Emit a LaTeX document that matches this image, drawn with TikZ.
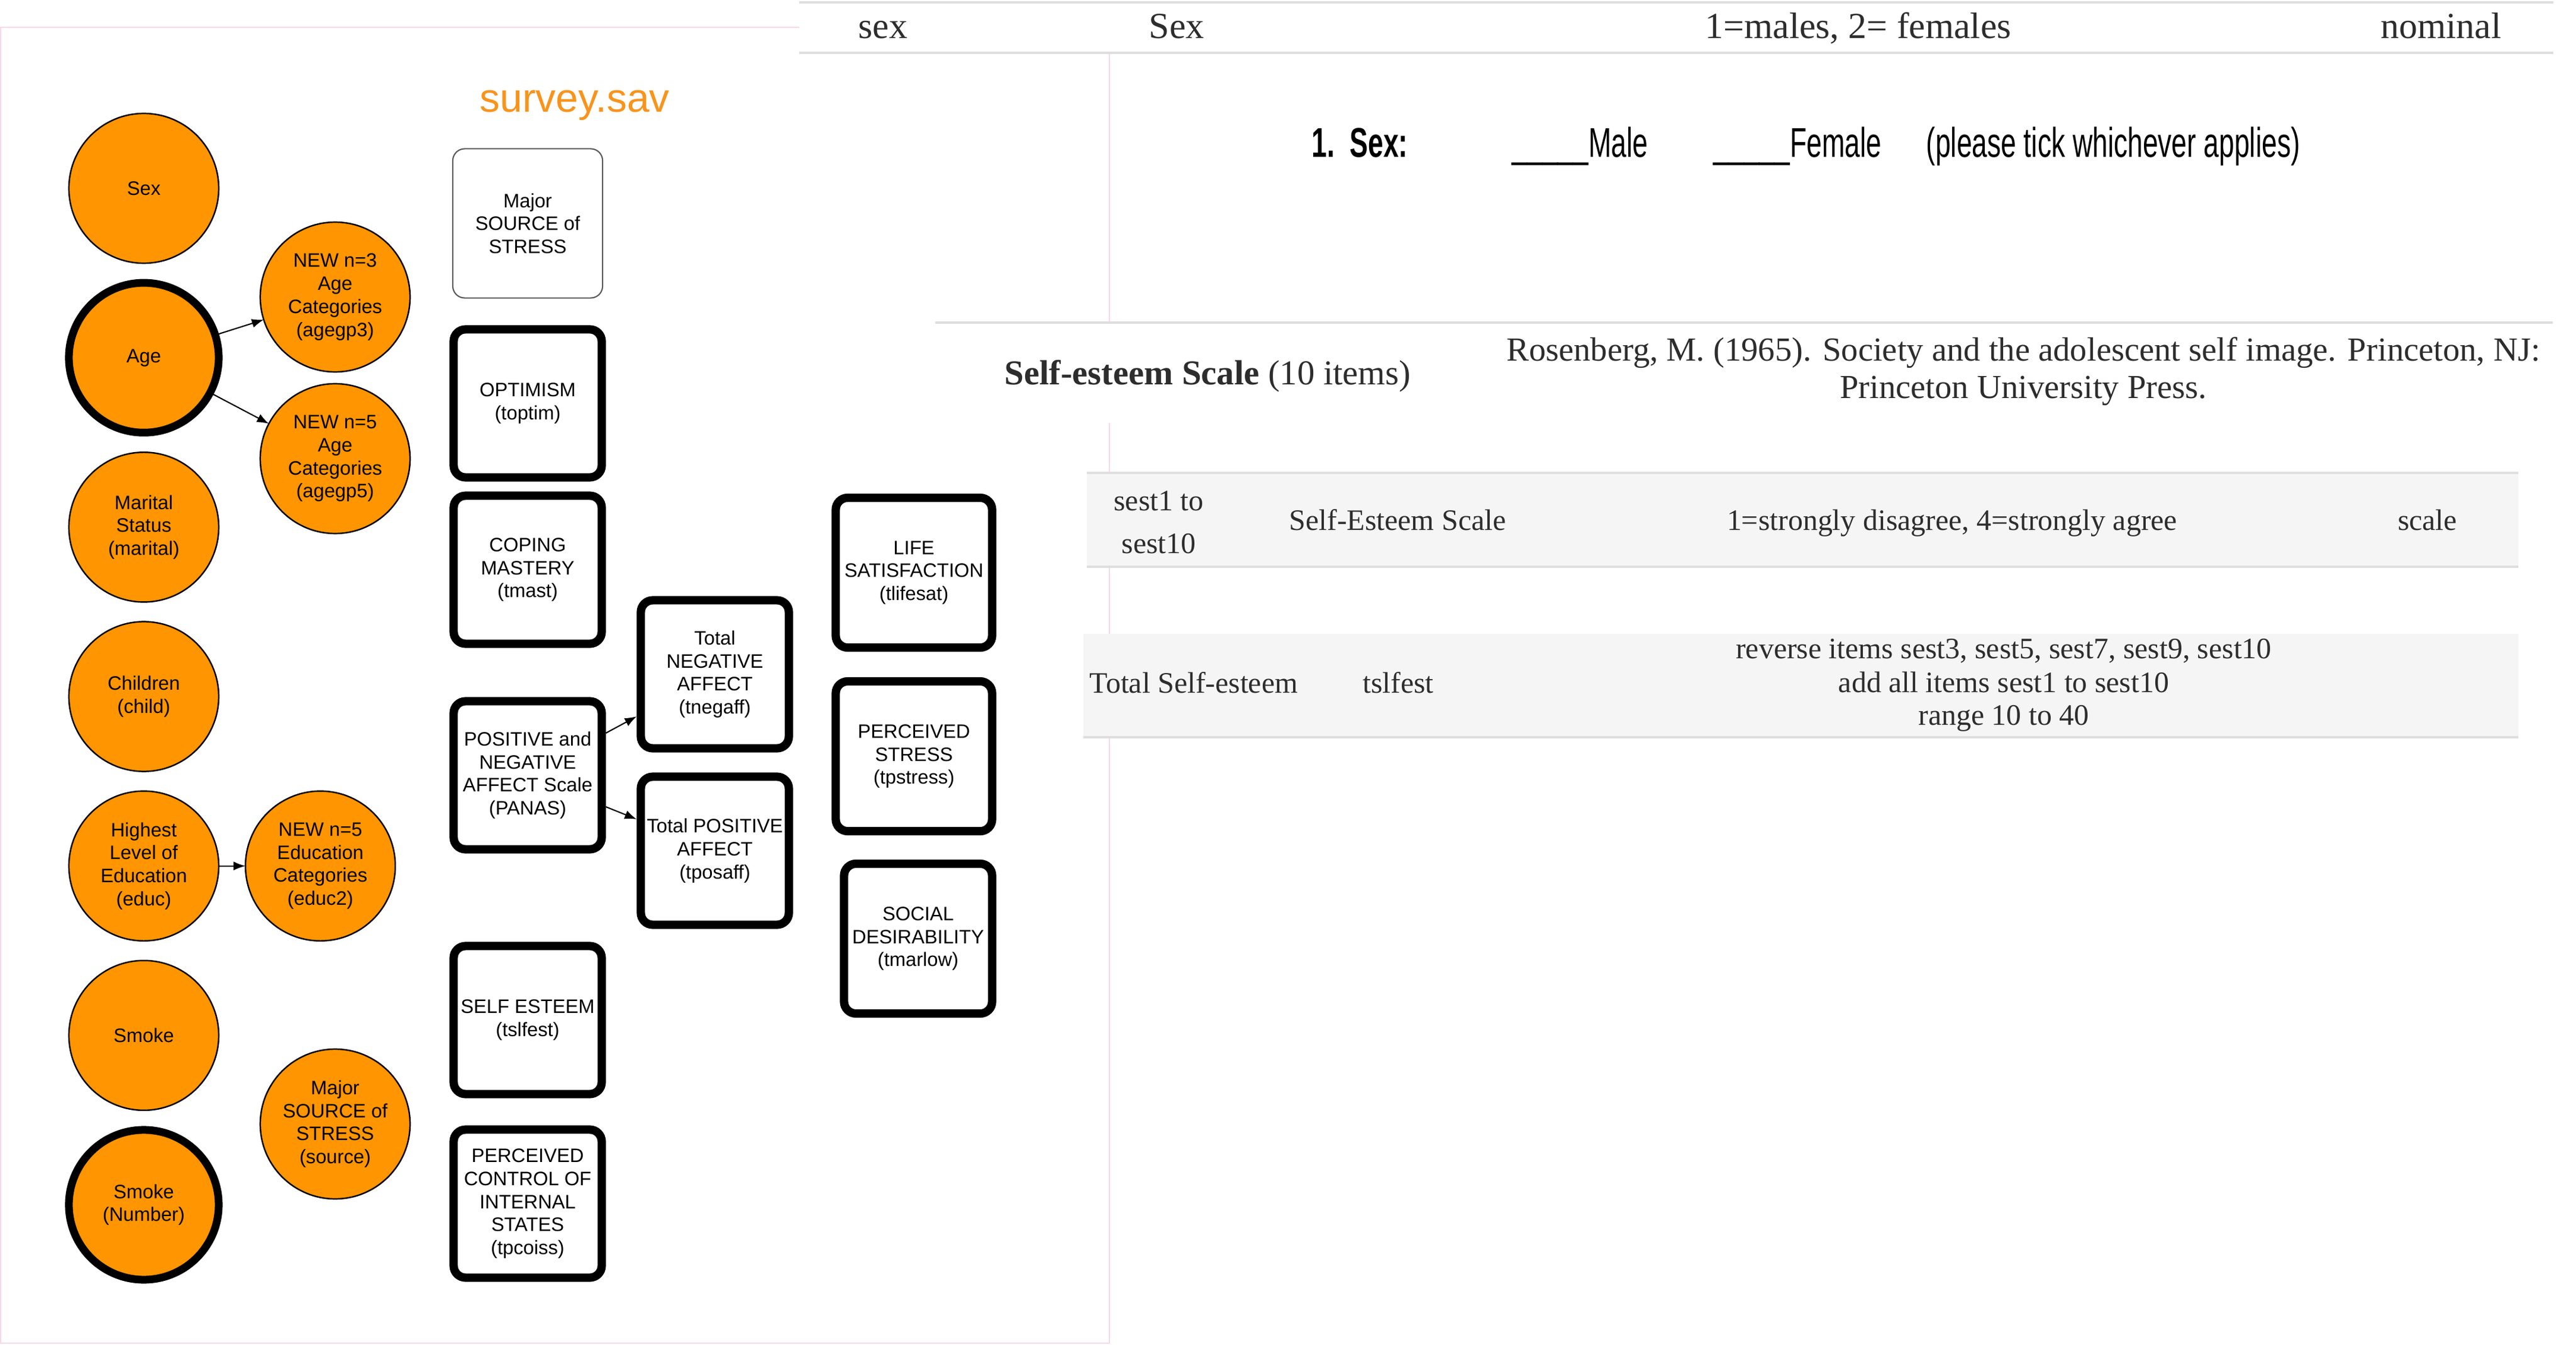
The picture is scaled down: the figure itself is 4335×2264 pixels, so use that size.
\documentclass[tikz,border=0pt]{standalone}
\usepackage{fontspec}
\usepackage{xcolor}
\usepackage{tikz}
\usetikzlibrary{arrows.meta,shapes,positioning}
\setmainfont{Liberation Serif}
\newfontfamily\diagsans{Liberation Sans}
\newfontfamily\formsans[FakeStretch=0.66]{Liberation Sans}
\definecolor{varorange}{RGB}{255,149,0}
\definecolor{titleorange}{RGB}{247,148,29}
\definecolor{panelpink}{RGB}{250,214,234}
\definecolor{rulegray}{RGB}{222,222,222}
\definecolor{rowgray}{RGB}{245,245,245}
\definecolor{tabtext}{RGB}{45,45,45}
\newcommand{\diagfont}{\diagsans\fontsize{9.3pt}{11pt}\selectfont}
\newcommand{\surveyfont}{\diagsans\fontsize{19.3pt}{22pt}\selectfont}
\newcommand{\formfont}{\formsans\fontsize{19.9pt}{24pt}\selectfont}
\newcommand{\tabheadfont}{\fontsize{17.6pt}{21pt}\selectfont}
\newcommand{\esteemfont}{\fontsize{16.7pt}{20pt}\selectfont}
\newcommand{\citefont}{\fontsize{16.1pt}{18pt}\selectfont}
\newcommand{\cellfont}{\fontsize{14.2pt}{16pt}\selectfont}

\begin{document}
\begin{tikzpicture}[
    x=0.01cm, y=-0.01cm,
    var/.style={circle, draw, line width=0.7pt, fill=varorange,
                minimum size=2.52cm, inner sep=0pt, outer sep=0pt,
                align=center, font=\diagfont},
    keyvar/.style={var, line width=3.7pt},
    measure/.style={draw, line width=4pt, rounded corners=0.2cm, fill=white,
                    minimum width=2.49cm, minimum height=2.49cm,
                    inner sep=0pt, outer sep=2pt, align=center, font=\diagfont},
    plainbox/.style={measure, line width=0.6pt, draw=black!65, outer sep=0pt,
                     minimum width=2.52cm, minimum height=2.51cm},
    arr/.style={-{Latex[length=0.2cm, width=0.15cm]}, line width=0.6pt},
    tabrule/.style={draw=rulegray, line width=1.1pt},
    cell/.style={anchor=base, inner sep=0pt, text=tabtext, font=\cellfont},
    node distance=0.33cm
]
\fill[white] (0,0) rectangle (4335,2264);
\useasboundingbox (0,0) rectangle (4335,2264);
\draw[panelpink, line width=0.4pt] (1,46) rectangle (1867,2261);

\fill[white] (1345,0) rectangle (4335,89);
\fill[white] (1574,541) rectangle (4335,712);
\draw[tabrule] (1345,4) -- (4297,4);
\draw[tabrule] (1345,89) -- (4297,89);
\draw[tabrule] (1574,543) -- (4296,543);
\fill[rowgray] (1829,796) rectangle (4238,954);
\draw[tabrule] (1829,796) -- (4238,796) (1829,954) -- (4238,954);
\fill[rowgray] (1823,1067) rectangle (4238,1241);
\draw[tabrule] (1823,1241) -- (4238,1241);

\node[cell, font=\tabheadfont] (varname) at (1486,65) {sex};
\node[cell, font=\tabheadfont] (varlabel) at (1980,65) {Sex};
\node[cell, font=\tabheadfont] (varcodes) at (3127,65) {1=males, 2= females};
\node[cell, font=\tabheadfont] (vartype) at (4108,65) {nominal};

\node[anchor=base west, inner sep=0pt, font=\formfont\bfseries] (qnum) at (2207,265) {1.};
\node[anchor=base west, inner sep=0pt, font=\formfont\bfseries] (qlabel) at (2271,265) {Sex:};
\node[anchor=base west, inner sep=0pt, font=\formfont] (qmale) at (2544,265) {\_\_\_\_\_Male};
\node[anchor=base west, inner sep=0pt, font=\formfont] (qfemale) at (2883,265) {\_\_\_\_\_Female};
\node[anchor=base west, inner sep=0pt, font=\formfont] (qnote) at (3241,265) {(please tick whichever applies)};

\node[anchor=base west, inner sep=0pt, text=tabtext, font=\esteemfont] (esteem) at (1690,648) {\textbf{Self-esteem Scale} (10 items)};
\node[cell, font=\citefont] (cite1) at (3405,607) {Rosenberg, M. (1965). Society and the adolescent self image. Princeton, NJ:};
\node[cell, font=\citefont] (cite2) at (3405,670) {Princeton University Press.};

\node[cell] (itemname) at (1950,859) {sest1 to};
\node[cell] (itemname2) at (1950,931) {sest10};
\node[cell] (itemlabel) at (2352,892) {Self-Esteem Scale};
\node[cell] (itemcodes) at (3285,892) {1=strongly disagree, 4=strongly agree};
\node[cell] (itemtype) at (4085,892) {scale};
\node[cell] (totlabel) at (2009,1166) {Total Self-esteem};
\node[cell] (totname) at (2353,1166) {tslfest};
\node[cell] (totrule1) at (3372,1108) {reverse items sest3, sest5, sest7, sest9, sest10};
\node[cell] (totrule2) at (3372,1165) {add all items sest1 to sest10};
\node[cell] (totrule3) at (3372,1220) {range 10 to 40};

\node[anchor=base, inner sep=0pt, text=titleorange, font=\surveyfont] (title) at (967,189) {survey.sav};

\node[var] (sex) at (242,317) {Sex};
\node[keyvar, below=of sex] (age) {Age};
\node[var, below=of age] (marital) {Marital\\Status\\(marital)};
\node[var, below=of marital] (child) {Children\\(child)};
\node[var, below=of child] (educ) {Highest\\Level of\\Education\\(educ)};
\node[var, below=of educ] (smoke) {Smoke};
\node[keyvar, below=of smoke] (smokenum) {Smoke\\(Number)};

\node[var] (agegp3) at (564,500) {NEW n=3\\Age\\Categories\\(agegp3)};
\node[var] (agegp5) at (564,772) {NEW n=5\\Age\\Categories\\(agegp5)};
\node[var, right=0.45cm of educ] (educ2) {NEW n=5\\Education\\Categories\\(educ2)};
\node[var] (source) at (564,1892) {Major\\SOURCE of\\STRESS\\(source)};

\node[plainbox] (stress) at (888,376) {Major\\SOURCE of\\STRESS};
\node[measure] (toptim) at (888,679) {OPTIMISM\\(toptim)};
\node[measure] (tmast) at (888,959) {COPING\\MASTERY\\(tmast)};
\node[measure] (panas) at (888,1305) {POSITIVE and\\NEGATIVE\\AFFECT Scale\\(PANAS)};
\node[measure] (tslfest) at (888,1717) {SELF ESTEEM\\(tslfest)};
\node[measure] (tpcoiss) at (888,2026) {PERCEIVED\\CONTROL OF\\INTERNAL\\STATES\\(tpcoiss)};
\node[measure] (tnegaff) at (1203,1135) {Total\\NEGATIVE\\AFFECT\\(tnegaff)};
\node[measure] (tposaff) at (1203,1432) {Total POSITIVE\\AFFECT\\(tposaff)};
\node[measure, minimum width=2.63cm, minimum height=2.52cm] (tlifesat) at (1538,964) {LIFE\\SATISFACTION\\(tlifesat)};
\node[measure, minimum width=2.63cm, minimum height=2.52cm] (tpstress) at (1538,1273) {PERCEIVED\\STRESS\\(tpstress)};
\node[measure, minimum height=2.52cm] (tmarlow) at (1545,1580) {SOCIAL\\DESIRABILITY\\(tmarlow)};

\draw[arr] (age) -- (agegp3);
\draw[arr] (age) -- (agegp5);
\draw[arr] (educ) -- (educ2);
\draw[arr] (panas) -- (tnegaff);
\draw[arr] (panas) -- (tposaff);
\end{tikzpicture}
\end{document}
